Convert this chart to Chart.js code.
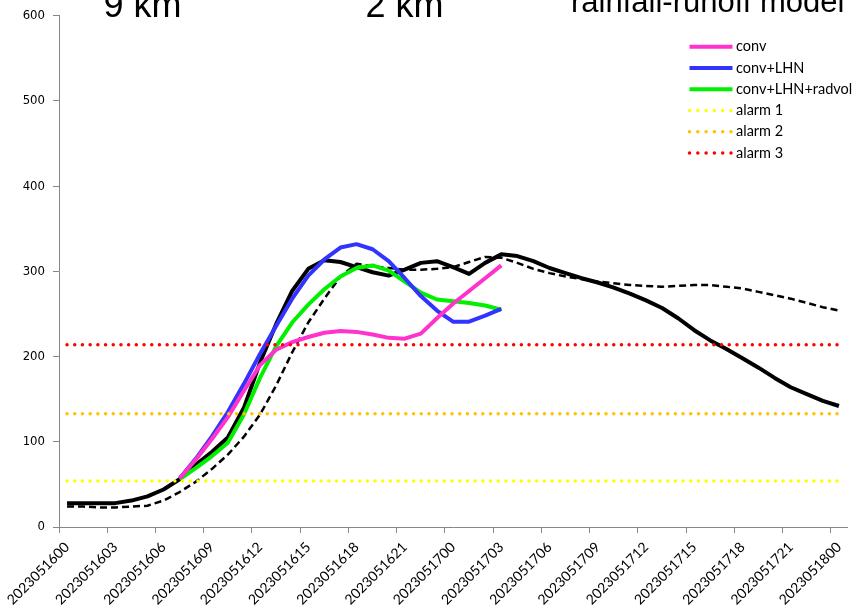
<!DOCTYPE html>
<html><head><meta charset="utf-8">
<script src="https://cdn.jsdelivr.net/npm/chart.js@4/dist/chart.umd.min.js"></script>
<style>html,body{margin:0;padding:0;background:#fff;}#wrap{width:864px;height:611px;}</style>
</head><body><div id="wrap"><canvas id="c" width="864" height="611"></canvas></div>
<script>
const categories = ['2023051600','2023051601','2023051602','2023051603','2023051604','2023051605','2023051606','2023051607','2023051608','2023051609','2023051610','2023051611','2023051612','2023051613','2023051614','2023051615','2023051616','2023051617','2023051618','2023051619','2023051620','2023051621','2023051622','2023051623','2023051700','2023051701','2023051702','2023051703','2023051704','2023051705','2023051706','2023051707','2023051708','2023051709','2023051710','2023051711','2023051712','2023051713','2023051714','2023051715','2023051716','2023051717','2023051718','2023051719','2023051720','2023051721','2023051722','2023051723','2023051800'];
const yTicks = [0,100,200,300,400,500,600];
const runoffSolid = [28,28,28,28,31,36,44,56,73,88,105,140,193,238,277,303,313,311,305,299,295,302,310,312,305,297,310,320,318,312,304,298,292,287,281,274,266,257,245,231,219,209,198,187,175,164,156,148,142];
const runoffDashed = [24,24,23,23,24,25,31,41,53,68,85,106,132,166,205,240,268,294,309,306,304,302,302,303,305,311,317,316,310,303,298,294,291,288,286,284,283,282,283,284,284,282,280,276,272,268,263,258,254];
const conv = [null,null,null,null,null,null,null,57,79,103,129,160,190,208,217,223,228,230,229,226,222,221,227,245,262,277,292,307];
const convLHN = [null,null,null,null,null,null,null,57,80,106,135,168,203,236,268,295,314,328,332,326,312,292,271,254,241,241,248,256];
const convLHNradvol = [null,null,null,null,null,null,null,56,69,83,99,132,175,212,240,261,279,294,304,307,301,288,275,267,265,263,260,255];
const alarmLevels = [54,133,214];
const seriesNames = ['conv','conv+LHN','conv+LHN+radvol','alarm 1','alarm 2','alarm 3'];
const headings = ['9 km','2 km','rainfall-runoff model'];

const AXIS = '#868686';
const dot = {borderDash:[0,7.7], borderCapStyle:'round', borderWidth:3.5};
const datasets = [
  {label:seriesNames[0], data:conv, borderColor:'#FF33CC', borderWidth:4, order:1},
  {label:seriesNames[1], data:convLHN, borderColor:'#3333FF', borderWidth:4, order:1},
  {label:seriesNames[2], data:convLHNradvol, borderColor:'#00F000', borderWidth:4, order:1},
  Object.assign({label:seriesNames[3], data:categories.map(()=>alarmLevels[0]), borderColor:'#FFFF00', order:0}, dot),
  Object.assign({label:seriesNames[4], data:categories.map(()=>alarmLevels[1]), borderColor:'#FFC000', order:0}, dot),
  Object.assign({label:seriesNames[5], data:categories.map(()=>alarmLevels[2]), borderColor:'#FF0000', order:0}, dot),
  {label:'', data:runoffSolid, borderColor:'#000000', borderWidth:4, order:2},
  {label:'', data:runoffDashed, borderColor:'#000000', borderWidth:2.5, borderDash:[7,4], order:2}
];
datasets.forEach(d=>{d.pointRadius=0; d.fill=false; d.tension=0; d.borderJoinStyle='round'; d.spanGaps=false;});

const decor = {
  id:'decor',
  afterDraw(chart){
    const ctx = chart.ctx;
    ctx.save();
    ctx.fillStyle = '#000';
    ctx.textBaseline = 'alphabetic';
    ctx.textAlign = 'left';
    ctx.font = '36px "Liberation Sans", Arial, sans-serif';
    ctx.fillText(headings[0], 103.5, 17);
    ctx.fillText(headings[1], 365.5, 17);
    ctx.font = '31px "Liberation Sans", Arial, sans-serif';
    ctx.fillText(headings[2], 571, 12);
    let y = 46.7;
    chart.data.datasets.forEach(ds=>{
      if(!ds.label) return;
      ctx.save();
      ctx.strokeStyle = ds.borderColor;
      ctx.lineWidth = ds.borderWidth;
      if(ds.borderDash && ds.borderDash[0]===0){ ctx.setLineDash([0,8.3]); ctx.lineCap='round'; }
      else { ctx.setLineDash([]); ctx.lineCap='butt'; }
      ctx.beginPath(); ctx.moveTo(689.5,y); ctx.lineTo(732.5,y); ctx.stroke();
      ctx.restore();
      ctx.fillStyle = '#000';
      ctx.font = '14.5px Lato, sans-serif';
      ctx.textBaseline = 'middle';
      ctx.fillText(ds.label, 736, y);
      y += 21.25;
    });
    ctx.restore();
  }
};

new Chart(document.getElementById('c'), {
  type:'line',
  data:{labels:categories, datasets},
  options:{
    responsive:false, animation:false, devicePixelRatio:1,
    layout:{padding:{top:14,right:17,left:0,bottom:0}},
    plugins:{legend:{display:false}, tooltip:{enabled:false}},
    scales:{
      x:{
        type:'category', offset:true,
        afterFit(s){ s.height = 84; },
        grid:{offset:true, drawOnChartArea:false, drawTicks:true, tickLength:6, color:(c)=> (c.index!==undefined && c.index%3===0) ? AXIS : 'rgba(0,0,0,0)'},
        border:{color:AXIS, width:1},
        ticks:{autoSkip:false, minRotation:45, maxRotation:45, padding:6, color:'#000',
          font:{family:'Lato', size:14},
          callback:(v,i)=> i%3===0 ? categories[i] : ''}
      },
      y:{
        min:0, max:600,
        afterFit(s){ s.width = 59; },
        afterBuildTicks(s){ s.ticks = yTicks.map(v=>({value:v})); },
        grid:{drawOnChartArea:false, drawTicks:true, tickLength:6, color:AXIS},
        border:{color:AXIS, width:1},
        ticks:{padding:8, color:'#000', font:{family:'"Liberation Sans Narrow", "DejaVu Sans Condensed", sans-serif', size:13}}
      }
    }
  },
  plugins:[decor]
});
</script></body></html>
